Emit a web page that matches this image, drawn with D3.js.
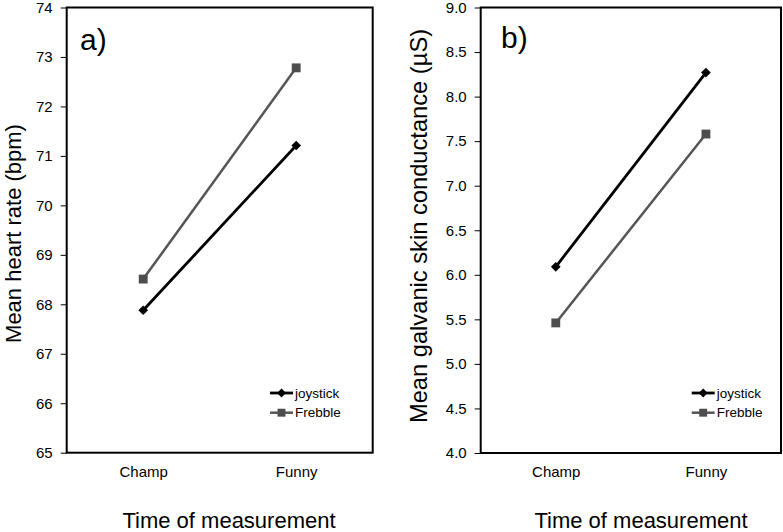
<!DOCTYPE html>
<html>
<head>
<meta charset="utf-8">
<script src="https://d3js.org/d3.v7.min.js"></script>
<style>
    body { margin: 0; background: #fff; font-family: "Liberation Sans", Arial, sans-serif; }
    .axis text { font-size: 15px; fill: #000; }
    .axis line { stroke: #000; stroke-width: 1px; }
    .frame { fill: none; stroke: #000; stroke-width: 2px; }
</style>
</head>
<body>
<svg width="783" height="532"></svg>
<script>
// data
var categories = ["Champ", "Funny"];
var seriesNames = ["joystick", "Frebble"];

var hrJoystick = [67.88, 71.21];
var hrFrebble = [68.51, 72.78];
var hrTicks = [65, 66, 67, 68, 69, 70, 71, 72, 73, 74];

var gsrJoystick = [6.09, 8.27];
var gsrFrebble = [5.46, 7.58];
var gsrTicks = [4.0, 4.5, 5.0, 5.5, 6.0, 6.5, 7.0, 7.5, 8.0, 8.5, 9.0];

var colors = { joystick: "#000", Frebble: "#555" };

var svg = d3.select("svg");

var panels = [
    {
        left: 66.7, right: 372.7, top: 7.5, bottom: 452.7,
        values: [hrJoystick, hrFrebble], ticks: hrTicks, fmt: d3.format("d"),
        label: "a)", labelX: 80, labelY: 50,
        ytitle: "Mean heart rate (bpm)", ytitleX: 20.5, ytitleY: 233.5, ytitleSize: 22,
        xtitleX: 229, legendX: 270
    },
    {
        left: 480.7, right: 781, top: 7.5, bottom: 453,
        values: [gsrJoystick, gsrFrebble], ticks: gsrTicks, fmt: d3.format(".1f"),
        label: "b)", labelX: 501, labelY: 47.5,
        ytitle: "Mean galvanic skin conductance (\u00b5S)", ytitleX: 427, ytitleY: 226, ytitleSize: 23.7,
        xtitleX: 641, legendX: 691.7
    }
];

panels.forEach(function (p) {
    var x = d3.scalePoint().domain(categories).range([p.left, p.right]).padding(0.5);
    var y = d3.scaleLinear()
        .domain([p.ticks[0], p.ticks[p.ticks.length - 1]])
        .range([p.bottom, p.top]);

    // y axis ticks + labels
    var ya = svg.append("g")
        .attr("class", "axis")
        .attr("transform", "translate(" + p.left + ",0)")
        .call(d3.axisLeft(y).tickValues(p.ticks).tickFormat(p.fmt).tickSize(6).tickPadding(8));
    ya.select(".domain").remove();
    ya.selectAll("text").attr("font-family", "Liberation Sans, Arial, sans-serif");

    // category labels
    var xa = svg.append("g")
        .attr("class", "axis")
        .attr("transform", "translate(0," + p.bottom + ")")
        .call(d3.axisBottom(x).tickSize(0).tickPadding(13.5));
    xa.select(".domain").remove();
    xa.selectAll("text").attr("font-family", "Liberation Sans, Arial, sans-serif");

    // plot frame
    svg.append("rect")
        .attr("class", "frame")
        .attr("x", p.left)
        .attr("y", p.top)
        .attr("width", p.right - p.left)
        .attr("height", p.bottom - p.top);

    var line = d3.line()
        .x(function (d, i) { return x(categories[i]); })
        .y(function (d) { return y(d); });

    p.values.forEach(function (vals, si) {
        var name = seriesNames[si];
        svg.append("path")
            .datum(vals)
            .attr("fill", "none")
            .attr("stroke", colors[name])
            .attr("stroke-width", si == 0 ? 2.8 : 2.5)
            .attr("d", line);

        svg.selectAll(null)
            .data(vals)
            .enter()
            .append("path")
            .attr("transform", function (d, i) {
                return "translate(" + x(categories[i]) + "," + y(d) + ")";
            })
            .attr("d", si == 0 ? d3.symbol(d3.symbolDiamond2, 60)() : d3.symbol(d3.symbolSquare2, 100)())
            .attr("fill", si == 0 ? "#000" : "#4d4d4d")
            .attr("stroke", "none");
    });

    // legend
    var ly = [393, 412.7];
    seriesNames.forEach(function (name, si) {
        var g = svg.append("g").attr("transform", "translate(" + p.legendX + "," + ly[si] + ")");
        g.append("line")
            .attr("x1", 0).attr("x2", 23)
            .attr("stroke", colors[name])
            .attr("stroke-width", si == 0 ? 2.8 : 2.5);
        g.append("path")
            .attr("transform", "translate(11.5,0)")
            .attr("d", si == 0 ? d3.symbol(d3.symbolDiamond2, 50)() : d3.symbol(d3.symbolSquare2, 80)())
            .attr("fill", si == 0 ? "#000" : "#4d4d4d");
        g.append("text")
            .attr("x", 25)
            .attr("dy", "0.35em")
            .attr("font-size", "13.5px")
            .text(name);
    });

    // panel letter
    svg.append("text")
        .attr("x", p.labelX)
        .attr("y", p.labelY)
        .attr("font-size", "30px")
        .text(p.label);

    // y title
    svg.append("text")
        .attr("transform", "translate(" + p.ytitleX + "," + p.ytitleY + ") rotate(-90)")
        .attr("text-anchor", "middle")
        .attr("font-size", p.ytitleSize + "px")
        .text(p.ytitle);

    // x title
    svg.append("text")
        .attr("x", p.xtitleX)
        .attr("y", 528)
        .attr("text-anchor", "middle")
        .attr("font-size", "22px")
        .text("Time of measurement");
});
</script>
</body>
</html>
